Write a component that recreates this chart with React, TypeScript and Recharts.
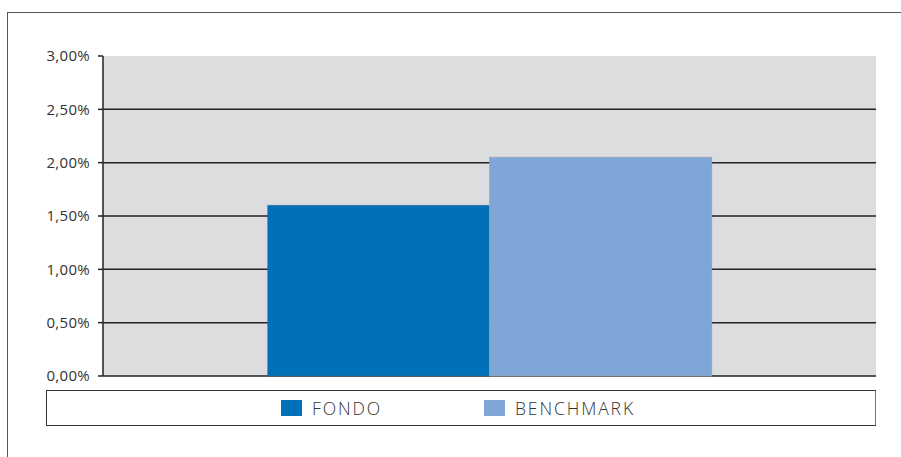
import React from 'react';
import { BarChart, Bar, XAxis, YAxis, CartesianGrid } from 'recharts';

const categories = [''];
const seriesNames = ['FONDO', 'BENCHMARK'];
const fondoValues = [0.016];
const benchmarkValues = [0.0205];
const yTicks = [0, 0.005, 0.01, 0.015, 0.02, 0.025, 0.03];
const colors = ['#0070b8', '#7ea7d8'];

const data = categories.map((name, i) => ({
  name,
  FONDO: fondoValues[i],
  BENCHMARK: benchmarkValues[i],
}));

const fmt = (v: number) => (v * 100).toFixed(2).replace('.', ',') + '%';

const font = '"Open Sans", "Noto Sans", sans-serif';

const App: React.FC = () => {
  return (
    <div style={{ position: 'absolute', left: 0, top: 0, width: 901, height: 457, background: '#fff', overflow: 'hidden', fontFamily: font }}>
      {/* outer frame */}
      <div style={{ position: 'absolute', left: 7, top: 12, width: 900, height: 460, borderTop: '1.5px solid #555', borderLeft: '1.5px solid #555' }} />
      <BarChart
        width={901}
        height={457}
        data={data}
        margin={{ top: 56, right: 25, bottom: 81, left: 0 }}
        barCategoryGap="21.3%"
        barGap={0}
        style={{ position: 'absolute', left: 0, top: 0 }}
      >
        <CartesianGrid fill="#dcdddf" stroke="#222" strokeWidth={1.5} vertical={false} horizontalValues={yTicks.slice(0, -1)} />
        <XAxis dataKey="name" tick={false} tickLine={false} axisLine={{ stroke: '#222', strokeWidth: 1.5 }} height={0} />
        <XAxis xAxisId="top" orientation="top" dataKey="name" tick={false} tickLine={false} axisLine={{ stroke: '#8d969b', strokeWidth: 2 }} height={0} />
        <YAxis
          domain={[0, 0.03]}
          ticks={yTicks}
          tickFormatter={fmt}
          width={103}
          tickSize={5}
          tickMargin={8}
          axisLine={{ stroke: '#222', strokeWidth: 1.5 }}
          tickLine={{ stroke: '#222', strokeWidth: 1.5 }}
          tick={{ fill: '#333', fontSize: 15, fontFamily: font, letterSpacing: 0.3 }}
        />
        <YAxis yAxisId="right" orientation="right" domain={[0, 0.03]} tick={false} tickLine={false} axisLine={{ stroke: '#8d969b', strokeWidth: 2 }} width={0} />
        <Bar dataKey="FONDO" fill={colors[0]} stroke="#3a6f96" strokeWidth={0.5} isAnimationActive={false} />
        <Bar dataKey="BENCHMARK" fill={colors[1]} stroke="#9aa0a6" strokeWidth={0.8} isAnimationActive={false} />
      </BarChart>
      {/* legend */}
      <div style={{ position: 'absolute', left: 46, top: 390, width: 828, height: 34, border: '1.5px solid #333', borderRightColor: '#777', background: '#fff' }}>
        {seriesNames.map((s, i) => (
          <div key={s} style={{ position: 'absolute', left: 234 + i * 203, top: 9, display: 'flex', alignItems: 'center' }}>
            <div style={{ width: 21, height: 16, background: colors[i] }} />
            <span style={{ marginLeft: 10, fontSize: 17.5, letterSpacing: 1.9, color: '#333', fontWeight: 300, lineHeight: '16px' }}>{s}</span>
          </div>
        ))}
      </div>
    </div>
  );
};

export default App;
